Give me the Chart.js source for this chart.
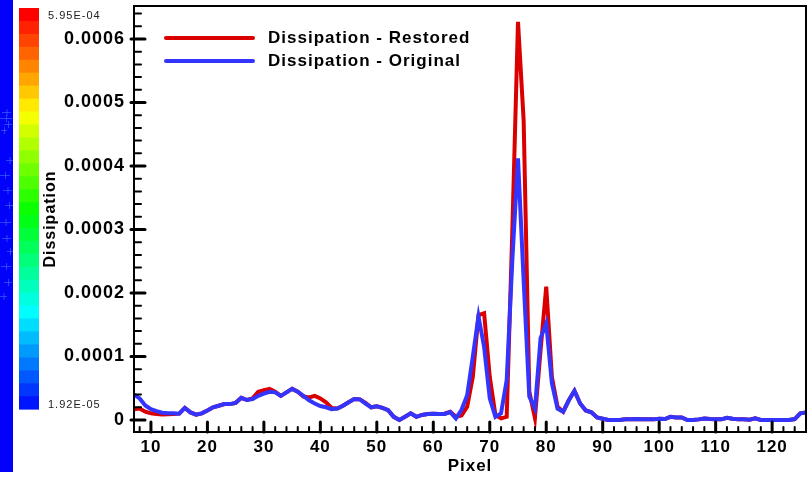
<!DOCTYPE html>
<html>
<head>
<meta charset="utf-8">
<script src="https://cdn.jsdelivr.net/npm/chart.js@4/dist/chart.umd.min.js"></script>
<style>
  html, body { margin: 0; padding: 0; background: #fff; }
  #wrap { position: relative; width: 810px; height: 481px; }
</style>
</head>
<body>
<div id="wrap"><canvas id="chart" width="810" height="481"></canvas></div>
<script>
// sample positions along the line (pixel index)
let pixels = [
  7, 8, 9, 10, 11, 12, 13, 14, 15, 16, 17, 18, 19, 20, 21, 22, 23, 24, 25, 26,
  27, 28, 29, 30, 31, 32, 33, 34, 35, 36, 37, 38, 39, 40, 41, 42, 43, 44, 45, 46,
  47, 48, 49, 50, 51, 52, 53, 54, 55, 56, 57, 58, 59, 60, 61, 62, 63, 64, 65, 66,
  67, 68, 69, 70, 71, 72, 73, 74, 75, 76, 77, 78, 79, 80, 81, 82, 83, 84, 85, 86,
  87, 88, 89, 90, 91, 92, 93, 94, 95, 96, 97, 98, 99, 100, 101, 102, 103, 104, 105, 106,
  107, 108, 109, 110, 111, 112, 113, 114, 115, 116, 117, 118, 119, 120, 121, 122, 123, 124, 125, 126
];

// dissipation values, in units of 1e-4
let restored = [
  0.17, 0.18, 0.13, 0.105, 0.095, 0.085, 0.09, 0.095, 0.10, 0.19, 0.12, 0.085, 0.105, 0.15, 0.20, 0.225, 0.25, 0.25, 0.27, 0.35,
  0.315, 0.34, 0.445, 0.47, 0.49, 0.445, 0.38, 0.435, 0.49, 0.445, 0.37, 0.355, 0.38, 0.34, 0.28, 0.19, 0.18, 0.225, 0.28, 0.33,
  0.325, 0.27, 0.20, 0.215, 0.19, 0.155, 0.05, 0.0, 0.05, 0.105, 0.05, 0.08, 0.095, 0.10, 0.095, 0.10, 0.13, 0.05, 0.07, 0.21,
  0.68, 1.65, 1.68, 0.68, 0.08, 0.025, 0.05, 3.0, 6.27, 4.72, 0.45, 0.03, 1.1, 2.10, 0.68, 0.21, 0.13, 0.31, 0.46, 0.26,
  0.15, 0.12, 0.04, 0.02, 0.0, 0.0, 0.0, 0.01, 0.01, 0.015, 0.01, 0.01, 0.01, 0.02, 0.015, 0.05, 0.04, 0.04, 0.0, 0.0,
  0.01, 0.025, 0.015, 0.01, 0.01, 0.035, 0.02, 0.01, 0.01, 0.005, 0.025, 0.0, 0.0, 0.0, 0.0, 0.0, 0.0, 0.015, 0.105, 0.12
];
let original = [
  0.40, 0.34, 0.23, 0.17, 0.14, 0.115, 0.105, 0.105, 0.10, 0.19, 0.12, 0.085, 0.105, 0.15, 0.20, 0.225, 0.25, 0.25, 0.27, 0.35,
  0.315, 0.33, 0.38, 0.415, 0.445, 0.435, 0.38, 0.435, 0.49, 0.445, 0.38, 0.31, 0.26, 0.22, 0.20, 0.17, 0.18, 0.225, 0.28, 0.33,
  0.325, 0.26, 0.20, 0.215, 0.19, 0.155, 0.05, 0.0, 0.05, 0.105, 0.05, 0.08, 0.095, 0.10, 0.095, 0.095, 0.125, 0.025, 0.16, 0.39,
  1.0, 1.63, 1.15, 0.34, 0.05, 0.105, 0.63, 2.52, 4.12, 2.2, 0.37, 0.18, 1.29, 1.52, 0.58, 0.18, 0.13, 0.31, 0.46, 0.26,
  0.15, 0.12, 0.04, 0.02, 0.0, 0.0, 0.0, 0.01, 0.01, 0.015, 0.01, 0.01, 0.01, 0.02, 0.015, 0.05, 0.04, 0.04, 0.0, 0.0,
  0.01, 0.025, 0.015, 0.01, 0.01, 0.035, 0.02, 0.01, 0.01, 0.005, 0.025, 0.0, 0.0, 0.0, 0.0, 0.0, 0.0, 0.015, 0.105, 0.12
];
const UNIT = 1e-4;

let xTicks = [10, 20, 30, 40, 50, 60, 70, 80, 90, 100, 110, 120];
let yTicks = [0, 0.0001, 0.0002, 0.0003, 0.0004, 0.0005, 0.0006];
let colorbarLabels = ['5.95E-04', '1.92E-05'];

const FONT = "'Liberation Sans', Arial, sans-serif";
Chart.defaults.font.family = FONT;
Chart.defaults.color = '#000';

let points = vals => pixels.map((p, i) => ({ x: p, y: vals[i] * UNIT }));

// spaced-out lettering everywhere on the canvas
let spacing = {
  id: 'spacing',
  beforeDraw(chart) { chart.ctx.letterSpacing = '1px'; }
};

// colour bar and the strip of contour plot at the far left
let colorbar = {
  id: 'colorbar',
  beforeDraw(chart) {
    let ctx = chart.ctx;
    ctx.save();
    ctx.fillStyle = 'rgb(2,2,250)';
    ctx.fillRect(0, 0, 13, 472);
    ctx.strokeStyle = 'rgba(70,120,255,0.55)';
    ctx.lineWidth = 1;
    let marks = [[2,112,9],[0,118,12],[4,124,8],[1,130,6],[6,160,7],[0,175,10],[3,190,9],
                 [5,205,8],[0,222,11],[2,238,9],[7,251,6],[1,266,10],[4,282,8],[0,296,7]];
    marks.forEach(([mx, my, mw]) => {
      ctx.beginPath(); ctx.moveTo(mx, my + 0.5); ctx.lineTo(mx + mw, my + 0.5); ctx.stroke();
      ctx.beginPath(); ctx.moveTo(mx + mw / 2 + 0.5, my - 3); ctx.lineTo(mx + mw / 2 + 0.5, my + 4); ctx.stroke();
    });

    let top = 8, bottom = 409, n = 31;
    let h = (bottom - top) / n;
    for (let i = 0; i < n; i++) {
      ctx.fillStyle = `hsl(${(235 * i / (n - 1)).toFixed(1)}, 100%, 50%)`;
      ctx.fillRect(19, top + i * h, 20, h + 0.6);
    }
    ctx.fillStyle = '#222';
    ctx.font = `11px ${FONT}`;
    ctx.textBaseline = 'middle';
    ctx.textAlign = 'left';
    ctx.fillText(colorbarLabels[0], 48, 16);
    ctx.fillText(colorbarLabels[1], 48, 405);
    ctx.restore();
  }
};

// frame, inward tick marks and the in-plot legend
let frame = {
  id: 'frame',
  afterDraw(chart) {
    let ctx = chart.ctx;
    let { left, right, top, bottom } = chart.chartArea;
    let xs = chart.scales.x, ys = chart.scales.y;
    ctx.save();
    ctx.strokeStyle = '#000';
    ctx.lineCap = 'round';

    for (let v = 8; v <= 126; v += 2) {
      let px = xs.getPixelForValue(v);
      let major = xTicks.includes(v);
      ctx.lineWidth = major ? 3 : 2;
      ctx.beginPath();
      ctx.moveTo(px, bottom);
      ctx.lineTo(px, bottom - (major ? 10 : 5));
      ctx.stroke();
    }
    for (let k = 0; k <= 32; k++) {
      let py = ys.getPixelForValue(k * 0.00002);
      let major = k % 5 === 0;
      ctx.lineWidth = major ? 3 : 2;
      ctx.beginPath();
      ctx.moveTo(left - (major ? 3 : 0), py);
      ctx.lineTo(left + (major ? 11 : 7), py);
      ctx.stroke();
    }

    ctx.lineCap = 'butt';
    ctx.lineWidth = 2;
    ctx.strokeRect(left, top, right - left, bottom - top);

    ctx.lineCap = 'round';
    ctx.font = `bold 17px ${FONT}`;
    ctx.textBaseline = 'middle';
    ctx.textAlign = 'left';
    ctx.fillStyle = '#000';
    chart.data.datasets.forEach((ds, i) => {
      let ly = 38 + i * 23;
      ctx.strokeStyle = ds.borderColor;
      ctx.lineWidth = 4;
      ctx.beginPath();
      ctx.moveTo(166, ly);
      ctx.lineTo(253, ly);
      ctx.stroke();
      ctx.fillText(ds.label, 268, ly);
    });
    ctx.restore();
  }
};

let ctx = document.getElementById('chart').getContext('2d');
let chart = new Chart(ctx, {
  type: 'line',
  data: {
    datasets: [{
      label: 'Dissipation - Restored',
      data: points(restored),
      borderColor: 'rgb(218,0,0)',
      borderWidth: 4,
      pointRadius: 0,
      tension: 0,
      order: 2
    }, {
      label: 'Dissipation - Original',
      data: points(original),
      borderColor: 'rgb(52,52,255)',
      borderWidth: 4,
      pointRadius: 0,
      tension: 0,
      order: 1
    }]
  },
  options: {
    responsive: false,
    animation: false,
    layout: { padding: { top: 6, right: 4, left: 0, bottom: 0 } },
    plugins: { legend: { display: false }, tooltip: { enabled: false } },
    scales: {
      x: {
        type: 'linear',
        min: 7,
        max: 126,
        grid: { display: false, drawTicks: false },
        border: { display: false },
        afterBuildTicks: s => { s.ticks = xTicks.map(v => ({ value: v })); },
        afterFit: s => { s.height = 49; s.paddingLeft = 0; s.paddingRight = 0; },
        ticks: {
          font: { size: 17, weight: 'bold' },
          color: '#000',
          padding: 5,
          maxRotation: 0,
          autoSkip: false
        },
        title: {
          display: true,
          text: 'Pixel',
          color: '#000',
          font: { size: 17, weight: 'bold' },
          padding: { top: 0, bottom: 4 }
        }
      },
      y: {
        type: 'linear',
        min: -0.0000189,
        max: 0.000652,
        grid: { display: false, drawTicks: false },
        border: { display: false },
        afterBuildTicks: s => { s.ticks = yTicks.map(v => ({ value: v })); },
        afterFit: s => { s.width = 134; s.paddingTop = 0; s.paddingBottom = 0; },
        ticks: {
          font: { size: 18, weight: 'bold' },
          color: '#000',
          padding: 9,
          callback: v => v === 0 ? '0' : v.toFixed(4)
        },
        title: {
          display: true,
          text: 'Dissipation',
          color: '#000',
          font: { size: 16, weight: 'bold' },
          padding: { top: 41, bottom: 0 }
        }
      }
    }
  },
  plugins: [spacing, colorbar, frame]
});
</script>
</body>
</html>
